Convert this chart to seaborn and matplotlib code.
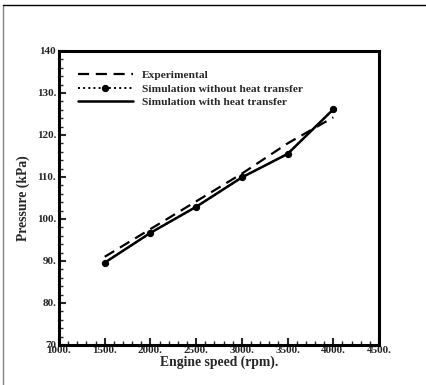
import matplotlib
matplotlib.use("Agg")
import matplotlib.pyplot as plt
from matplotlib.lines import Line2D
from matplotlib.ticker import MultipleLocator, FixedLocator, FixedFormatter
import seaborn as sns
import pandas as pd

speed = [1500, 2000, 2500, 3000, 3500, 4000]
experimental = [91.0, 97.6, 104.2, 110.8, 118.0, 124.2]
sim_no_heat = [89.6, 96.7, 102.9, 109.9, 115.5, 126.1]
sim_heat = [89.6, 96.7, 102.9, 109.9, 115.5, 126.1]

x_ticks = [1000, 1500, 2000, 2500, 3000, 3500, 4000, 4500]
x_labels = ["1000.", "1500.", "2000.", "2500.", "3000.", "3500.", "4000.", "4500."]
y_ticks = [70, 80, 90, 100, 110, 120, 130, 140]
y_labels = ["70", "80.", "90.", "100.", "110.", "120.", "130.", "140"]

sns.set_theme(style="white")
plt.rcParams['font.family'] = ['Liberation Serif', 'DejaVu Serif']
plt.rcParams['font.weight'] = 'bold'

fig = plt.figure(figsize=(4.26, 3.85), dpi=100)
ax = fig.add_axes([59/426, 40/385, 320/426, 294/385])

sns.lineplot(x=speed, y=experimental, ax=ax, color="black", linestyle=(0, (5, 3)),
             linewidth=1.6, label="Experimental")
sns.lineplot(x=speed, y=sim_no_heat, ax=ax, color="black", linestyle=":",
             linewidth=1.4, marker="o", markersize=4.5, markeredgecolor="black",
             label="Simulation without heat transfer")
sns.lineplot(x=speed, y=sim_heat, ax=ax, color="black", linestyle="-",
             linewidth=1.8, label="Simulation with heat transfer")

ax.set_xlim(1000, 4500)
ax.set_ylim(70, 140)
ax.xaxis.set_major_locator(FixedLocator(x_ticks))
ax.xaxis.set_major_formatter(FixedFormatter(x_labels))
ax.yaxis.set_major_locator(FixedLocator(y_ticks))
ax.yaxis.set_major_formatter(FixedFormatter(y_labels))
ax.xaxis.set_minor_locator(MultipleLocator(100))
ax.yaxis.set_minor_locator(MultipleLocator(2))
ax.tick_params(axis="both", which="major", direction="in", length=5, width=1.5,
               labelsize=8, pad=2, bottom=True, left=True, top=False, right=False)
ax.tick_params(axis="x", which="major", pad=1)
ax.tick_params(axis="both", which="minor", direction="in", length=3, width=1,
               bottom=True, left=True, top=False, right=False)
for lab in ax.get_xticklabels() + ax.get_yticklabels():
    lab.set_fontweight("bold")
for s in ax.spines.values():
    s.set_linewidth(2.2)
    s.set_color("black")

ax.set_xlabel("Engine speed (rpm).", fontsize=9.8, fontweight="bold", labelpad=0)
ax.set_ylabel("Pressure (kPa)", fontsize=9.8, fontweight="bold", labelpad=5)

leg = ax.legend(loc="upper left", bbox_to_anchor=(0.045, 0.95), frameon=False,
                handlelength=4.8, fontsize=8.2, labelspacing=0.3, handletextpad=0.8,
                borderaxespad=0)
for t in leg.get_texts():
    t.set_fontweight("bold")

fig.add_artist(Line2D([3/426, 3/426], [0, 1 - 5/385], transform=fig.transFigure,
                      color="#808080", linewidth=1))
fig.add_artist(Line2D([3/426, 1], [1 - 5/385, 1 - 5/385], transform=fig.transFigure,
                      color="black", linewidth=1))

fig.savefig("out.png", dpi=100)
